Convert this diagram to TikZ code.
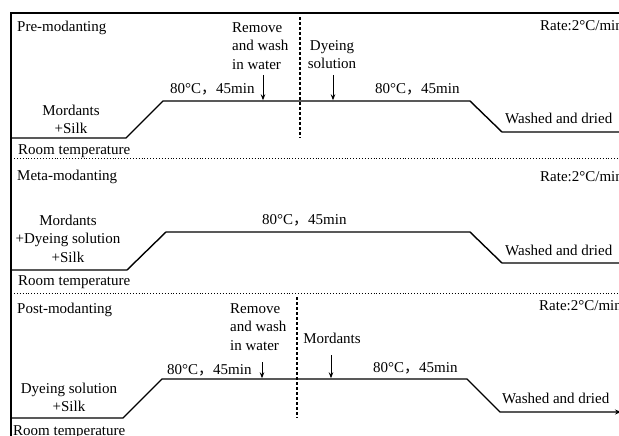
\documentclass[tikz,border=0pt]{standalone}
\usepackage{fontspec}
\setmainfont{Liberation Serif}
\newfontfamily\cjk{Noto Sans CJK SC}
\usetikzlibrary{arrows.meta}
\newcommand{\tempc}{80°C{\cjk ，}45min}
\tikzset{
  txt/.style={font=\fontsize{15}{18.5}\selectfont, inner sep=0pt, text=black},
  prof/.style={line width=1.4pt, line join=miter},
  framel/.style={line width=1.4pt},
  sepl/.style={dotted, line width=0.9pt},
  vdash/.style={dash pattern=on 3pt off 2pt, line width=1.2pt},
  addarr/.style={-{Stealth[length=6pt,width=4.5pt]}, line width=1pt}
}
\begin{document}
\begin{tikzpicture}[x=1pt,y=-1pt]
\useasboundingbox (0,0) rectangle (619,436);
\clip (0,0) rectangle (619,436);
\fill[white] (0,0) rectangle (619,436);
% frame
\coordinate (fr1) at (619,13);
\coordinate (fr2) at (11,13);
\coordinate (fr3) at (11,436);
\draw[framel] (fr1) -- (fr2) -- (fr3);
% separators
\coordinate (s1a) at (11,158); \coordinate (s1b) at (619,158);
\coordinate (s2a) at (11,293); \coordinate (s2b) at (619,293);
\draw[sepl] (s1a) -- (s1b);
\draw[sepl] (s2a) -- (s2b);

% ---------- Panel 1 ----------
\node[txt, anchor=base west] (t1) at (17,32) {Pre-modanting};
\node[txt, anchor=base west] (r1) at (540,31) {Rate:2°C/min};
\node[txt, align=left, anchor=north west] (rw1) at (232,19.05) {\strut Remove\\and wash\\in water};
\node[txt, align=center, anchor=north] (ds1) at (332,37.05) {\strut Dyeing\\solution};
\node[txt, anchor=base west] (c1a) at (170,93) {\tempc};
\node[txt, anchor=base west] (c1b) at (375,93) {\tempc};
\node[txt, align=center, anchor=north] (m1) at (71,102.05) {\strut Mordants\\+Silk};
\node[txt, anchor=base west] (rt1) at (18,154) {Room temperature};
\node[txt, anchor=base west] (wd1) at (505,123) {Washed and dried};
\coordinate (p1a) at (11,138); \coordinate (p1b) at (126,138);
\coordinate (p1c) at (163,101); \coordinate (p1d) at (470,101);
\coordinate (p1e) at (502,132); \coordinate (p1f) at (619,132);
\draw[prof] (p1a) -- (p1b) -- (p1c) -- (p1d) -- (p1e) -- (p1f);
\coordinate (v1a) at (300,17); \coordinate (v1b) at (300,138);
\draw[vdash] (v1a) -- (v1b);
\coordinate (a1s) at (263,75); \coordinate (a1e) at (263,100.3);
\draw[addarr] (a1s) -- (a1e);
\coordinate (a2s) at (333,75); \coordinate (a2e) at (333,100.3);
\draw[addarr] (a2s) -- (a2e);

% ---------- Panel 2 ----------
\node[txt, anchor=base west] (t2) at (17,180) {Meta-modanting};
\node[txt, anchor=base west] (r2) at (540,181) {Rate:2°C/min};
\node[txt, align=center, anchor=north] (m2) at (68,212.05) {\strut Mordants\\+Dyeing solution\\+Silk};
\node[txt, anchor=base west] (c2) at (262,224) {\tempc};
\node[txt, anchor=base west] (wd2) at (505,255) {Washed and dried};
\node[txt, anchor=base west] (rt2) at (18,285) {Room temperature};
\coordinate (p2a) at (11,270); \coordinate (p2b) at (127,270);
\coordinate (p2c) at (166,232); \coordinate (p2d) at (470,232);
\coordinate (p2e) at (502,263); \coordinate (p2f) at (619,263);
\draw[prof] (p2a) -- (p2b) -- (p2c) -- (p2d) -- (p2e) -- (p2f);

% ---------- Panel 3 ----------
\node[txt, anchor=base west] (t3) at (17,313) {Post-modanting};
\node[txt, anchor=base west] (r3) at (539,310) {Rate:2°C/min};
\node[txt, align=left, anchor=north west] (rw3) at (230,300.05) {\strut Remove\\and wash\\in water};
\node[txt, anchor=base] (md3) at (332,343) {Mordants};
\node[txt, anchor=base west] (c3a) at (167,374) {\tempc};
\node[txt, anchor=base west] (c3b) at (373,372) {\tempc};
\node[txt, align=center, anchor=north] (ds3) at (69,380.05) {\strut Dyeing solution\\+Silk};
\node[txt, anchor=base west] (wd3) at (502,403) {Washed and dried};
\node[txt, anchor=base west] (rt3) at (13,435) {Room temperature};
\coordinate (p3a) at (11,418); \coordinate (p3b) at (123,418);
\coordinate (p3c) at (162,379); \coordinate (p3d) at (467,379);
\coordinate (p3e) at (500,412); \coordinate (p3f) at (621,412);
\draw[prof, -{Stealth[length=6pt,width=5pt]}] (p3a) -- (p3b) -- (p3c) -- (p3d) -- (p3e) -- (p3f);
\coordinate (v3a) at (297,297); \coordinate (v3b) at (297,418);
\draw[vdash] (v3a) -- (v3b);
\coordinate (a3s) at (262,362); \coordinate (a3e) at (262,378.3);
\draw[addarr] (a3s) -- (a3e);
\coordinate (a4s) at (331,355); \coordinate (a4e) at (331,378.3);
\draw[addarr] (a4s) -- (a4e);
\end{tikzpicture}
\end{document}
